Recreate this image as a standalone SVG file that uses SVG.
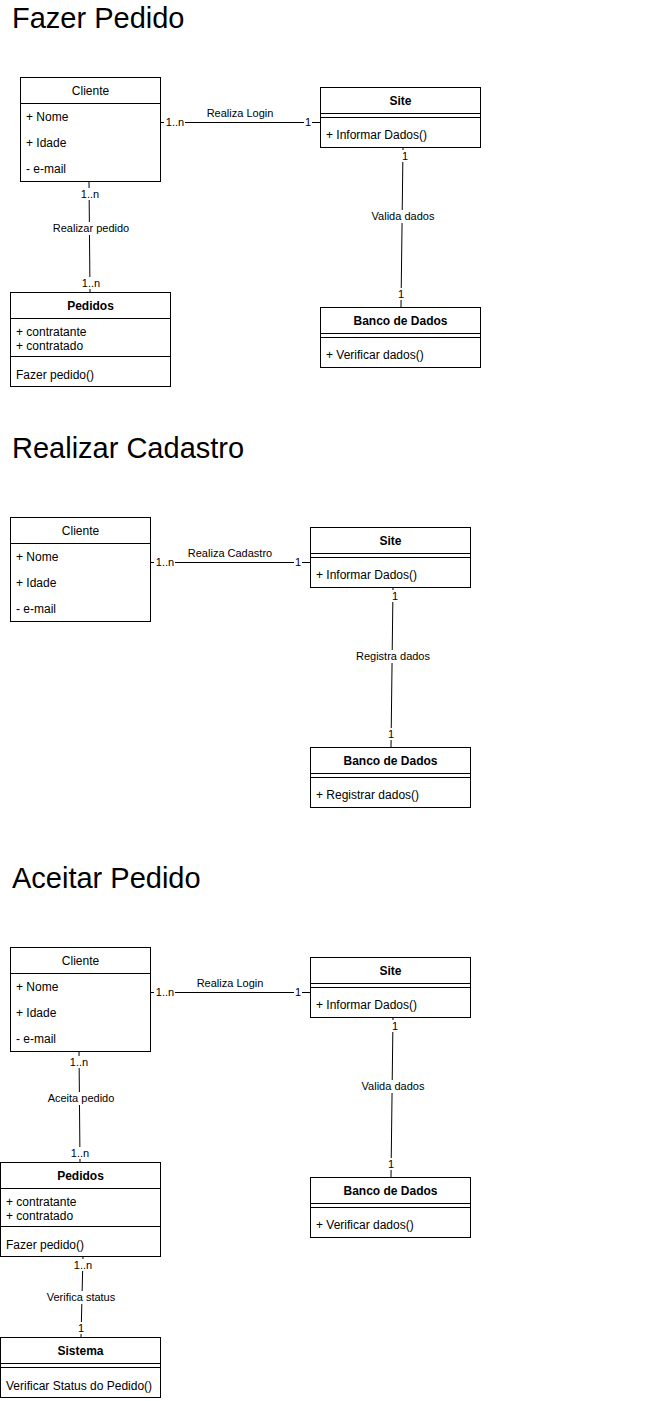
<svg xmlns="http://www.w3.org/2000/svg" width="651" height="1401" viewBox="0 0 651 1401">
<style>
text{font-family:"Liberation Sans",Arial,sans-serif;fill:#000}
.t{font-size:29px}
.a{font-size:12px}
.h{font-size:12px;text-anchor:middle}
.b{font-weight:bold}
.l{font-size:11px;text-anchor:middle}
.bx{fill:#fff;stroke:#000;stroke-width:1}
.ln{stroke:#000;stroke-width:1;fill:none}
.bg{fill:#fff}
</style>
<rect width="651" height="1401" fill="#fff"/>
<text class="t" x="12" y="28">Fazer Pedido</text>
<text class="t" x="12" y="458">Realizar Cadastro</text>
<text class="t" x="12" y="888">Aceitar Pedido</text>

<g id="connectors">
<!-- section 1 -->
<line class="ln" x1="160" y1="122.5" x2="320" y2="122.5"/>
<rect class="bg" x="164" y="116" width="21" height="12"/>
<text class="l" x="175" y="126">1..n</text>
<rect class="bg" x="304" y="116" width="8" height="12"/>
<text class="l" x="308" y="126">1</text>
<text class="l" x="240" y="117">Realiza Login</text>
<line class="ln" x1="89" y1="181" x2="90" y2="292"/>
<rect class="bg" x="80" y="188" width="20" height="12"/>
<text class="l" x="90" y="198">1..n</text>
<rect class="bg" x="50" y="222" width="82" height="13"/>
<text class="l" x="91" y="232">Realizar pedido</text>
<rect class="bg" x="81" y="277" width="20" height="12"/>
<text class="l" x="91" y="287">1..n</text>
<line class="ln" x1="403" y1="147" x2="401" y2="307"/>
<rect class="bg" x="401" y="150" width="8" height="12"/>
<text class="l" x="405" y="160">1</text>
<rect class="bg" x="369" y="210" width="68" height="13"/>
<text class="l" x="403" y="220">Valida dados</text>
<rect class="bg" x="397" y="288" width="8" height="12"/>
<text class="l" x="401" y="298">1</text>
<!-- section 2 -->
<line class="ln" x1="150" y1="562.5" x2="310" y2="562.5"/>
<rect class="bg" x="154" y="556" width="21" height="12"/>
<text class="l" x="165" y="566">1..n</text>
<rect class="bg" x="294" y="556" width="8" height="12"/>
<text class="l" x="298" y="566">1</text>
<text class="l" x="230" y="557">Realiza Cadastro</text>
<line class="ln" x1="393" y1="587" x2="391" y2="747"/>
<rect class="bg" x="391" y="590" width="8" height="12"/>
<text class="l" x="395" y="600">1</text>
<rect class="bg" x="354" y="650" width="78" height="13"/>
<text class="l" x="393" y="660">Registra dados</text>
<rect class="bg" x="387" y="728" width="8" height="12"/>
<text class="l" x="391" y="738">1</text>
<!-- section 3 -->
<line class="ln" x1="150" y1="992.5" x2="310" y2="992.5"/>
<rect class="bg" x="154" y="986" width="21" height="12"/>
<text class="l" x="165" y="996">1..n</text>
<rect class="bg" x="294" y="986" width="8" height="12"/>
<text class="l" x="298" y="996">1</text>
<text class="l" x="230" y="987">Realiza Login</text>
<line class="ln" x1="393" y1="1017" x2="391" y2="1177"/>
<rect class="bg" x="391" y="1020" width="8" height="12"/>
<text class="l" x="395" y="1030">1</text>
<rect class="bg" x="359" y="1080" width="68" height="13"/>
<text class="l" x="393" y="1090">Valida dados</text>
<rect class="bg" x="387" y="1158" width="8" height="12"/>
<text class="l" x="391" y="1168">1</text>
<line class="ln" x1="79" y1="1051" x2="80" y2="1162"/>
<rect class="bg" x="69" y="1056" width="20" height="12"/>
<text class="l" x="79" y="1066">1..n</text>
<rect class="bg" x="45" y="1092" width="72" height="13"/>
<text class="l" x="81" y="1102">Aceita pedido</text>
<rect class="bg" x="70" y="1147" width="20" height="12"/>
<text class="l" x="80" y="1157">1..n</text>
<line class="ln" x1="83" y1="1256" x2="81" y2="1337"/>
<rect class="bg" x="73" y="1259" width="20" height="12"/>
<text class="l" x="83" y="1269">1..n</text>
<rect class="bg" x="43" y="1291" width="78" height="13"/>
<text class="l" x="81" y="1301">Verifica status</text>
<rect class="bg" x="77" y="1322" width="8" height="12"/>
<text class="l" x="81" y="1332">1</text>
</g>

<g id="cliente1">
<rect class="bx" x="20.5" y="77.5" width="140" height="104"/>
<line class="ln" x1="20.5" y1="103.5" x2="160.5" y2="103.5"/>
<text class="h" x="90.5" y="95">Cliente</text>
<text class="a" x="26" y="121">+ Nome</text>
<text class="a" x="26" y="147">+ Idade</text>
<text class="a" x="26" y="173">- e-mail</text>
</g>
<g id="site1">
<rect class="bx" x="320.5" y="87.5" width="160" height="60"/>
<line class="ln" x1="320.5" y1="113.5" x2="480.5" y2="113.5"/>
<line class="ln" x1="320.5" y1="117.5" x2="480.5" y2="117.5"/>
<text class="h b" x="400.5" y="105">Site</text>
<text class="a" x="326" y="139">+ Informar Dados()</text>
</g>
<g id="banco1">
<rect class="bx" x="320.5" y="307.5" width="160" height="60"/>
<line class="ln" x1="320.5" y1="333.5" x2="480.5" y2="333.5"/>
<line class="ln" x1="320.5" y1="337.5" x2="480.5" y2="337.5"/>
<text class="h b" x="400.5" y="325">Banco de Dados</text>
<text class="a" x="326" y="359">+ Verificar dados()</text>
</g>
<g id="pedidos1">
<rect class="bx" x="10.5" y="292.5" width="160" height="94"/>
<line class="ln" x1="10.5" y1="318.5" x2="170.5" y2="318.5"/>
<line class="ln" x1="10.5" y1="356.5" x2="170.5" y2="356.5"/>
<text class="h b" x="90.5" y="310">Pedidos</text>
<text class="a" x="16" y="336">+ contratante</text>
<text class="a" x="16" y="350">+ contratado</text>
<text class="a" x="16" y="379">Fazer pedido()</text>
</g>

<g id="cliente2">
<rect class="bx" x="10.5" y="517.5" width="140" height="104"/>
<line class="ln" x1="10.5" y1="543.5" x2="150.5" y2="543.5"/>
<text class="h" x="80.5" y="535">Cliente</text>
<text class="a" x="16" y="561">+ Nome</text>
<text class="a" x="16" y="587">+ Idade</text>
<text class="a" x="16" y="613">- e-mail</text>
</g>
<g id="site2">
<rect class="bx" x="310.5" y="527.5" width="160" height="60"/>
<line class="ln" x1="310.5" y1="553.5" x2="470.5" y2="553.5"/>
<line class="ln" x1="310.5" y1="557.5" x2="470.5" y2="557.5"/>
<text class="h b" x="390.5" y="545">Site</text>
<text class="a" x="316" y="579">+ Informar Dados()</text>
</g>
<g id="banco2">
<rect class="bx" x="310.5" y="747.5" width="160" height="60"/>
<line class="ln" x1="310.5" y1="773.5" x2="470.5" y2="773.5"/>
<line class="ln" x1="310.5" y1="777.5" x2="470.5" y2="777.5"/>
<text class="h b" x="390.5" y="765">Banco de Dados</text>
<text class="a" x="316" y="799">+ Registrar dados()</text>
</g>

<g id="cliente3">
<rect class="bx" x="10.5" y="947.5" width="140" height="104"/>
<line class="ln" x1="10.5" y1="973.5" x2="150.5" y2="973.5"/>
<text class="h" x="80.5" y="965">Cliente</text>
<text class="a" x="16" y="991">+ Nome</text>
<text class="a" x="16" y="1017">+ Idade</text>
<text class="a" x="16" y="1043">- e-mail</text>
</g>
<g id="site3">
<rect class="bx" x="310.5" y="957.5" width="160" height="60"/>
<line class="ln" x1="310.5" y1="983.5" x2="470.5" y2="983.5"/>
<line class="ln" x1="310.5" y1="987.5" x2="470.5" y2="987.5"/>
<text class="h b" x="390.5" y="975">Site</text>
<text class="a" x="316" y="1009">+ Informar Dados()</text>
</g>
<g id="banco3">
<rect class="bx" x="310.5" y="1177.5" width="160" height="60"/>
<line class="ln" x1="310.5" y1="1203.5" x2="470.5" y2="1203.5"/>
<line class="ln" x1="310.5" y1="1207.5" x2="470.5" y2="1207.5"/>
<text class="h b" x="390.5" y="1195">Banco de Dados</text>
<text class="a" x="316" y="1229">+ Verificar dados()</text>
</g>
<g id="pedidos3">
<rect class="bx" x="0.5" y="1162.5" width="160" height="94"/>
<line class="ln" x1="0.5" y1="1188.5" x2="160.5" y2="1188.5"/>
<line class="ln" x1="0.5" y1="1226.5" x2="160.5" y2="1226.5"/>
<text class="h b" x="80.5" y="1180">Pedidos</text>
<text class="a" x="6" y="1206">+ contratante</text>
<text class="a" x="6" y="1220">+ contratado</text>
<text class="a" x="6" y="1249">Fazer pedido()</text>
</g>
<g id="sistema3">
<rect class="bx" x="0.5" y="1337.5" width="160" height="60"/>
<line class="ln" x1="0.5" y1="1363.5" x2="160.5" y2="1363.5"/>
<line class="ln" x1="0.5" y1="1367.5" x2="160.5" y2="1367.5"/>
<text class="h b" x="80.5" y="1355">Sistema</text>
<text class="a" x="6" y="1390">Verificar Status do Pedido()</text>
</g>
</svg>
